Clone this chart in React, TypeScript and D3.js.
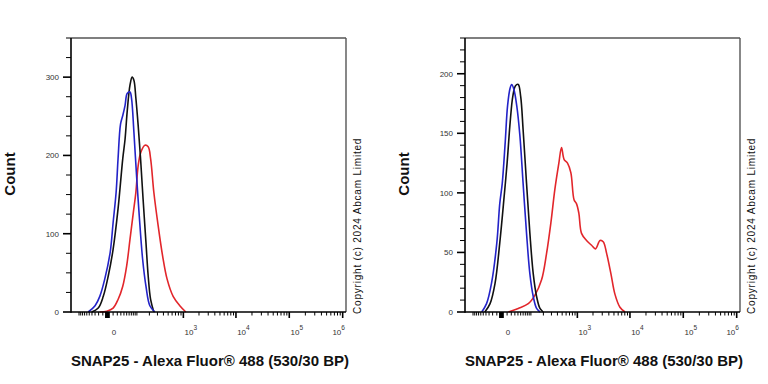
import React from 'react';
import * as d3 from 'd3';

// [fluorescence value on the biex axis, count]
type Pt = [number, number];

// left panel
const leftBlue: Pt[] = [
  [-54, 0], [-30, 8], [-17, 20], [-6, 42], [4, 76], [10, 114], [17, 153], [22, 196],
  [29, 240], [36, 251], [44, 264], [52, 279], [64, 281], [71, 273], [83, 230],
  [98, 174], [115, 123], [139, 68], [167, 33], [205, 8], [264, 0],
];
const leftBlack: Pt[] = [
  [-41, 0], [-21, 5], [-9, 20], [0.5, 46], [10, 80], [22, 132], [36, 196], [44, 221],
  [52, 256], [64, 290], [74, 300], [83, 296], [94, 273], [108, 238], [124, 196],
  [143, 144], [167, 89], [188, 46], [213, 16], [251, 0],
];
const leftRed: Pt[] = [
  [-17, 0], [-2, 1], [10, 5], [22, 16], [36, 33], [50, 59], [64, 93], [80, 127],
  [94, 153], [108, 187], [126, 204], [158, 213], [188, 211], [213, 196], [251, 153],
  [311, 110], [384, 72], [476, 42], [629, 20], [852, 8], [1116, 0],
];

// right panel
const rightBlue: Pt[] = [
  [-56, 0], [-38, 7], [-23, 24], [-10, 58], [-4, 91], [0.5, 108], [6, 142], [11, 173],
  [17, 188], [21, 191], [27, 187], [36, 173], [47, 148], [60, 108], [76, 66],
  [94, 32], [115, 13], [139, 3], [167, 0],
];
const rightBlack: Pt[] = [
  [-44, 0], [-27, 7], [-14, 24], [-4, 58], [4, 97], [10, 125], [17, 159], [24, 181],
  [32, 190], [41, 191], [50, 181], [60, 153], [76, 108], [94, 66], [115, 32],
  [139, 13], [167, 3], [198, 0],
];
const rightRed: Pt[] = [
  [13, 0], [41, 3], [85, 7], [126, 14], [182, 27], [235, 49], [292, 75], [354, 103],
  [428, 125], [485, 138], [548, 128], [640, 125], [745, 117], [864, 94], [960, 91],
  [1068, 83], [1205, 66], [1505, 60], [1878, 56], [2230, 53], [2720, 60], [3130, 59],
  [3640, 49], [4385, 32], [5210, 15], [6480, 4], [8060, 0],
];

const xMajor = [0, 1e3, 1e4, 1e5, 1e6];
const xMajorExp = ['', '3', '4', '5', '6'];
const leftYMajor = [0, 100, 200, 300];
const rightYMajor = [0, 50, 100, 150, 200];

const xTitle = 'SNAP25 - Alexa Fluor® 488 (530/30 BP)';
const yTitle = 'Count';
const copyright = 'Copyright (c) 2024 Abcam Limited';

const BLUE = '#2323c8';
const BLACK = '#111';
const RED = '#e2262b';
const FONT = '"Liberation Sans", Arial, sans-serif';

const W = 275;
const TOP = 38;
const BOTTOM = 312;

// biex-like axis, shared by both panels
const xs = d3.scaleSymlog().constant(40.3).domain([-158, 1.154e6]).range([0, W]);

// minor ticks: near-zero cluster, tens/hundreds, then 2..9 per decade
const xMinor: number[] = [];
for (let i = -4; i <= 2; i++) if (i !== 0) xMinor.push(i);
for (let k = 1; k <= 9; k++) { xMinor.push(k * 10, -k * 10, k * 100); }
xMinor.push(-100);
for (let e = 3; e < 6; e++) for (let k = 2; k <= 9; k++) xMinor.push(k * Math.pow(10, e));

interface PanelProps {
  ox: number;
  yMax: number;
  yMajor: number[];
  yMinorStep: number;
  series: { pts: Pt[]; color: string }[];
}

function Panel({ ox, yMax, yMajor, yMinorStep, series }: PanelProps) {
  const ys = d3.scaleLinear().domain([0, yMax]).range([BOTTOM, TOP]);
  const line = d3.line<Pt>()
    .x(d => ox + xs(d[0]))
    .y(d => Math.min(BOTTOM, ys(d[1])))
    .curve(d3.curveCatmullRom.alpha(0.5));
  const yMinor = d3.range(0, yMax + 0.001, yMinorStep).filter(v => !yMajor.includes(v));
  const labelDx = [6, 7.5, 7.5, 7.5, -4];

  return (
    <g>
      {/* frame */}
      <line x1={ox} x2={ox + W} y1={TOP} y2={TOP} stroke="#555" strokeWidth={1.4} />
      <line x1={ox + W} x2={ox + W} y1={TOP} y2={BOTTOM} stroke="#555" strokeWidth={1.4} />

      {series.map((s, i) => (
        <path key={i} d={line(s.pts) || ''}
          fill="none" stroke={s.color} strokeWidth={1.6} strokeLinejoin="round" />
      ))}

      {/* y axis */}
      <line x1={ox} x2={ox} y1={TOP} y2={BOTTOM + 0.8} stroke="#000" strokeWidth={1.6} />
      {yMinor.map(v => (
        <line key={'ym' + v} x1={ox - 5} x2={ox} y1={ys(v)} y2={ys(v)} stroke="#000" strokeWidth={1} />
      ))}
      {yMajor.map(v => (
        <g key={'yM' + v}>
          <line x1={ox - 8} x2={ox} y1={ys(v)} y2={ys(v)} stroke="#000" strokeWidth={1.6} />
          <text x={ox - 12} y={ys(v)} dy="0.35em" textAnchor="end" fontSize={8} fill="#333"
            fontFamily={FONT}>{v}</text>
        </g>
      ))}

      {/* x axis */}
      <line x1={ox} x2={ox + W} y1={BOTTOM} y2={BOTTOM} stroke="#000" strokeWidth={1.6} />
      {xMinor.map((v, i) => (
        <line key={'xm' + i} x1={ox + xs(v)} x2={ox + xs(v)} y1={BOTTOM}
          y2={BOTTOM + (Math.abs(v) < 5 ? 6 : 3.5)} stroke="#000" strokeWidth={Math.abs(v) < 5 ? 1.4 : 1} />
      ))}
      {xMajor.map((v, i) => (
        <g key={'xM' + v}>
          <line x1={ox + xs(v)} x2={ox + xs(v)} y1={BOTTOM} y2={BOTTOM + 6} stroke="#000" strokeWidth={1.6} />
          <text x={ox + xs(v) + labelDx[i]} y={335} textAnchor="middle" fontSize={8} fill="#333"
            fontFamily={FONT}>
            {v === 0 ? '0' : '10'}
            {xMajorExp[i] && <tspan dy={-5} fontSize={6.5}>{xMajorExp[i]}</tspan>}
          </text>
        </g>
      ))}

      {/* titles */}
      <text x={ox + 139} y={366} textAnchor="middle" fontSize={15} fontWeight="bold"
        fontFamily={FONT} fill="#111">{xTitle}</text>
      <text transform={`translate(${ox - 56.5},174) rotate(-90)`} textAnchor="middle" fontSize={15}
        fontWeight="bold" fontFamily={FONT} fill="#111">{yTitle}</text>
      <text transform={`translate(${ox + W + 15},314) rotate(-90)`} fontSize={10} letterSpacing={0.8}
        fontFamily={FONT} fill="#111">{copyright}</text>
    </g>
  );
}

export default function App() {
  return (
    <svg width={768} height={384} style={{ position: 'absolute', left: 0, top: 0, background: '#fff' }}>
      <rect width={768} height={384} fill="#fff" />
      <Panel ox={71} yMax={350} yMajor={leftYMajor} yMinorStep={25}
        series={[
          { pts: leftRed, color: RED },
          { pts: leftBlack, color: BLACK },
          { pts: leftBlue, color: BLUE },
        ]} />
      <Panel ox={465} yMax={230} yMajor={rightYMajor} yMinorStep={10}
        series={[
          { pts: rightRed, color: RED },
          { pts: rightBlack, color: BLACK },
          { pts: rightBlue, color: BLUE },
        ]} />
    </svg>
  );
}
